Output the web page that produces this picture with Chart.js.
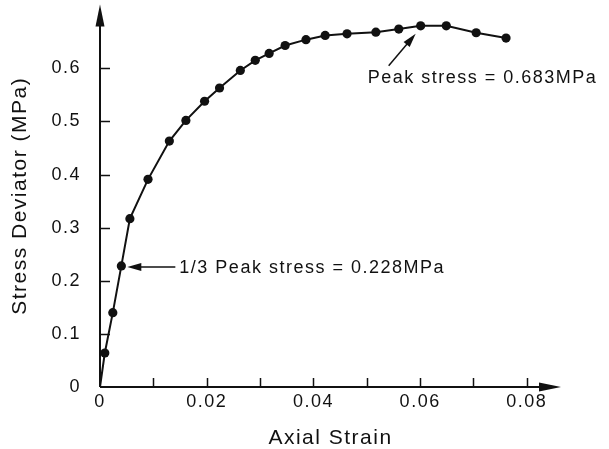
<!DOCTYPE html>
<html>
<head>
<meta charset="utf-8">
<script src="https://cdn.jsdelivr.net/npm/chart.js@4.4.1/dist/chart.umd.min.js"></script>
<style>
  html, body { margin: 0; padding: 0; background: #fff; }
  canvas { display: block; }
</style>
</head>
<body>
<canvas id="strainChart" width="609" height="449"></canvas>
<script>
// values
var strain = [0, 0.0009, 0.0024, 0.0040, 0.0056, 0.0090, 0.0130, 0.0161, 0.0196, 0.0224, 0.0263,
              0.0291, 0.0317, 0.0347, 0.0386, 0.0422, 0.0463, 0.0517, 0.0560, 0.0601, 0.0649, 0.0705, 0.0761];
var stress = [0, 0.064, 0.140, 0.228, 0.317, 0.391, 0.463, 0.502, 0.538, 0.563, 0.596,
              0.615, 0.628, 0.643, 0.654, 0.662, 0.665, 0.668, 0.674, 0.680, 0.680, 0.667, 0.657];

var xTickValues = [0, 0.02, 0.04, 0.06, 0.08];
var xTickLabels = ['0', '0.02', '0.04', '0.06', '0.08'];
var xMinorTicks = [0.01, 0.02, 0.03, 0.04, 0.05, 0.06, 0.07, 0.08];
var yTickValues = [0, 0.1, 0.2, 0.3, 0.4, 0.5, 0.6];
var yTickLabels = ['0', '0.1', '0.2', '0.3', '0.4', '0.5', '0.6'];

var oneThirdIndex = 3;
var peakIndex = 19;
var oneThirdText = '1/3 Peak stress = 0.228MPa';
var peakText = 'Peak stress = 0.683MPa';

var ink = '#111';
var fontFamily = "'Liberation Sans', Arial, Helvetica, sans-serif";

document.addEventListener("DOMContentLoaded", function () {
    var points = strain.map(function (x, i) { return { x: x, y: stress[i] }; });

    function arrowHead(ctx, tipX, tipY, fromX, fromY, len, half) {
        var a = Math.atan2(tipY - fromY, tipX - fromX);
        ctx.beginPath();
        ctx.moveTo(tipX, tipY);
        ctx.lineTo(tipX - len * Math.cos(a) + half * Math.sin(a), tipY - len * Math.sin(a) - half * Math.cos(a));
        ctx.lineTo(tipX - len * Math.cos(a) - half * Math.sin(a), tipY - len * Math.sin(a) + half * Math.cos(a));
        ctx.closePath();
        ctx.fill();
    }

    var spacingPlugin = {
        id: 'spacing',
        beforeDraw: function (chart) {
            chart.ctx.letterSpacing = '1.5px';
        }
    };

    var axesPlugin = {
        id: 'axesAndNotes',
        afterDraw: function (chart) {
            var ctx = chart.ctx;
            var xs = chart.scales.x, ys = chart.scales.y;
            var area = chart.chartArea;
            var x0 = xs.getPixelForValue(0), y0 = ys.getPixelForValue(0);
            ctx.save();
            ctx.strokeStyle = ink;
            ctx.fillStyle = ink;
            ctx.lineWidth = 2;

            // axis lines
            ctx.beginPath();
            ctx.moveTo(x0, y0);
            ctx.lineTo(x0, area.top + 10);
            ctx.moveTo(x0, y0);
            ctx.lineTo(area.right - 10, y0);
            ctx.stroke();
            arrowHead(ctx, x0, area.top, x0, y0, 22, 4.5);
            arrowHead(ctx, area.right, y0, x0, y0, 22, 4.5);

            // inward ticks
            ctx.lineWidth = 1.5;
            ctx.beginPath();
            yTickValues.forEach(function (v) {
                if (v === 0) return;
                var py = Math.round(ys.getPixelForValue(v)) + 0.5;
                ctx.moveTo(x0, py);
                ctx.lineTo(x0 + 10, py);
            });
            xMinorTicks.forEach(function (v) {
                var px = Math.round(xs.getPixelForValue(v)) + 0.5;
                ctx.moveTo(px, y0);
                ctx.lineTo(px, y0 - 9);
            });
            ctx.stroke();

            // annotations
            ctx.lineWidth = 1.5;
            ctx.letterSpacing = '1.5px';
            ctx.font = '18px ' + fontFamily;
            ctx.textBaseline = 'middle';
            ctx.textAlign = 'left';

            var px = xs.getPixelForValue(strain[oneThirdIndex]);
            var py = ys.getPixelForValue(stress[oneThirdIndex]);
            var tip = { x: px + 6, y: py + 1 };
            var tail = { x: px + 54, y: py + 1 };
            ctx.beginPath();
            ctx.moveTo(tail.x, tail.y);
            ctx.lineTo(tip.x + 8, tip.y);
            ctx.stroke();
            arrowHead(ctx, tip.x, tip.y, tail.x, tail.y, 14, 4);
            ctx.fillText(oneThirdText, tail.x + 4, tail.y + 1);

            px = xs.getPixelForValue(strain[peakIndex]);
            py = ys.getPixelForValue(stress[peakIndex]);
            tip = { x: px - 5, y: py + 8 };
            tail = { x: px - 32, y: py + 40 };
            ctx.beginPath();
            ctx.moveTo(tail.x, tail.y);
            ctx.lineTo(tip.x - 5, tip.y + 6);
            ctx.stroke();
            arrowHead(ctx, tip.x, tip.y, tail.x, tail.y, 14, 4);
            ctx.fillText(peakText, px - 53, py + 52);
            ctx.restore();
        }
    };

    var ctx1 = document.getElementById('strainChart').getContext('2d');
    var strainChart = new Chart(ctx1, {
        type: 'line',
        data: {
            datasets: [{
                label: 'Stress Deviator',
                data: points,
                borderColor: ink,
                backgroundColor: ink,
                borderWidth: 2,
                tension: 0,
                pointRadius: function (c) { return c.dataIndex === 0 ? 0 : 4.6; },
                pointBorderWidth: 0,
                pointBackgroundColor: ink
            }]
        },
        options: {
            responsive: false,
            animation: false,
            devicePixelRatio: 1,
            layout: { padding: { left: 0, top: 4, right: 48, bottom: 0 } },
            plugins: {
                legend: { display: false },
                tooltip: { enabled: false }
            },
            scales: {
                x: {
                    type: 'linear',
                    min: 0,
                    max: 0.0864,
                    grid: { display: false, drawTicks: false },
                    border: { display: false },
                    afterBuildTicks: function (scale) {
                        scale.ticks = xTickValues.map(function (v) { return { value: v }; });
                    },
                    afterFit: function (scale) {
                        scale.height = 62;
                        scale.paddingLeft = 0;
                        scale.paddingRight = 0;
                    },
                    ticks: {
                        color: ink,
                        padding: 4,
                        maxRotation: 0,
                        autoSkip: false,
                        font: { family: fontFamily, size: 18 },
                        callback: function (value, index) { return xTickLabels[index]; }
                    },
                    title: {
                        display: true,
                        text: 'Axial Strain',
                        color: ink,
                        padding: { top: 0, bottom: 0 },
                        font: { family: fontFamily, size: 21, lineHeight: 1 }
                    }
                },
                y: {
                    type: 'linear',
                    min: 0,
                    max: 0.72,
                    grid: { display: false, drawTicks: false },
                    border: { display: false },
                    afterBuildTicks: function (scale) {
                        scale.ticks = yTickValues.map(function (v) { return { value: v }; });
                    },
                    afterFit: function (scale) {
                        scale.width = 100;
                        scale.paddingTop = 0;
                        scale.paddingBottom = 0;
                    },
                    ticks: {
                        color: ink,
                        padding: 19,
                        autoSkip: false,
                        font: { family: fontFamily, size: 18 },
                        callback: function (value, index) { return yTickLabels[index]; }
                    },
                    title: {
                        display: true,
                        text: 'Stress Deviator (MPa)',
                        color: ink,
                        padding: { top: 9.5, bottom: 0 },
                        font: { family: fontFamily, size: 21, lineHeight: 1 }
                    }
                }
            }
        },
        plugins: [spacingPlugin, axesPlugin]
    });
});
</script>
</body>
</html>
